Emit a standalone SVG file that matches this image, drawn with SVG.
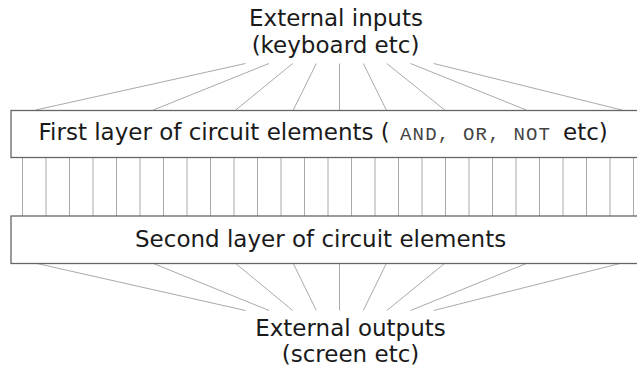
<svg xmlns="http://www.w3.org/2000/svg" width="637" height="368" viewBox="0 0 637 368">
<style>
.box{fill:#fff;stroke:#666;stroke-width:1.3}
.wire{stroke:#aaa;stroke-width:1;fill:none}
.lbl{font-family:"DejaVu Sans",sans-serif;font-size:23px;fill:#1a1a1a}
.mono{font-family:"Liberation Mono","Courier New",monospace;font-size:19px;letter-spacing:1.2px;fill:#444}
</style>
<rect width="637" height="368" fill="#fff"/>
<g id="connectors">
<path class="wire" d="M245.5 63.5L35.7 110M269 63.5L153.3 110M292.7 63.5L235.7 110M316.3 63.5L293.3 110M339.5 63.5L339.5 110M363.3 63.5L386.3 110M386.8 63.5L444.7 110M410.5 63.5L526.3 110M433.7 63.5L622 110"/>
<path class="wire" d="M22.5 157.5V216M46 157.5V216M69.5 157.5V216M93 157.5V216M116.5 157.5V216M140 157.5V216M163.5 157.5V216M187 157.5V216M210.5 157.5V216M234 157.5V216M257.5 157.5V216M281 157.5V216M304.5 157.5V216M328 157.5V216M351.5 157.5V216M375 157.5V216M398.5 157.5V216M422 157.5V216M445.5 157.5V216M469 157.5V216M492.5 157.5V216M516 157.5V216M539.5 157.5V216M563 157.5V216M586.5 157.5V216M610 157.5V216M633.5 157.5V216"/>
<path class="wire" d="M37 263.5L245.5 310.5M153.5 263.5L269 310.5M235.7 263.5L292.7 310.5M293.3 263.5L316.3 310.5M339.5 263.5L339.5 310.5M386.3 263.5L363.3 310.5M444.5 263.5L386.8 310.5M526.3 263.5L410.5 310.5M620 263.5L433.7 310.5"/>
</g>
<g id="inputs">
<text class="lbl" x="336" y="26" text-anchor="middle">External inputs</text>
<text class="lbl" x="335.5" y="53" text-anchor="middle">(keyboard etc)</text>
</g>
<g id="layer1">
<rect class="box" x="11" y="110.5" width="640" height="47"/>
<text class="lbl" x="38.5" y="140">First layer of circuit elements (<tspan class="mono" x="400">AND, OR, NOT</tspan><tspan x="563">etc)</tspan></text>
</g>
<g id="layer2">
<rect class="box" x="11" y="216" width="640" height="47.5"/>
<text class="lbl" x="135" y="247">Second layer of circuit elements</text>
</g>
<g id="outputs">
<text class="lbl" x="350.5" y="335.7" text-anchor="middle">External outputs</text>
<text class="lbl" x="350.5" y="362" text-anchor="middle">(screen etc)</text>
</g>
</svg>
